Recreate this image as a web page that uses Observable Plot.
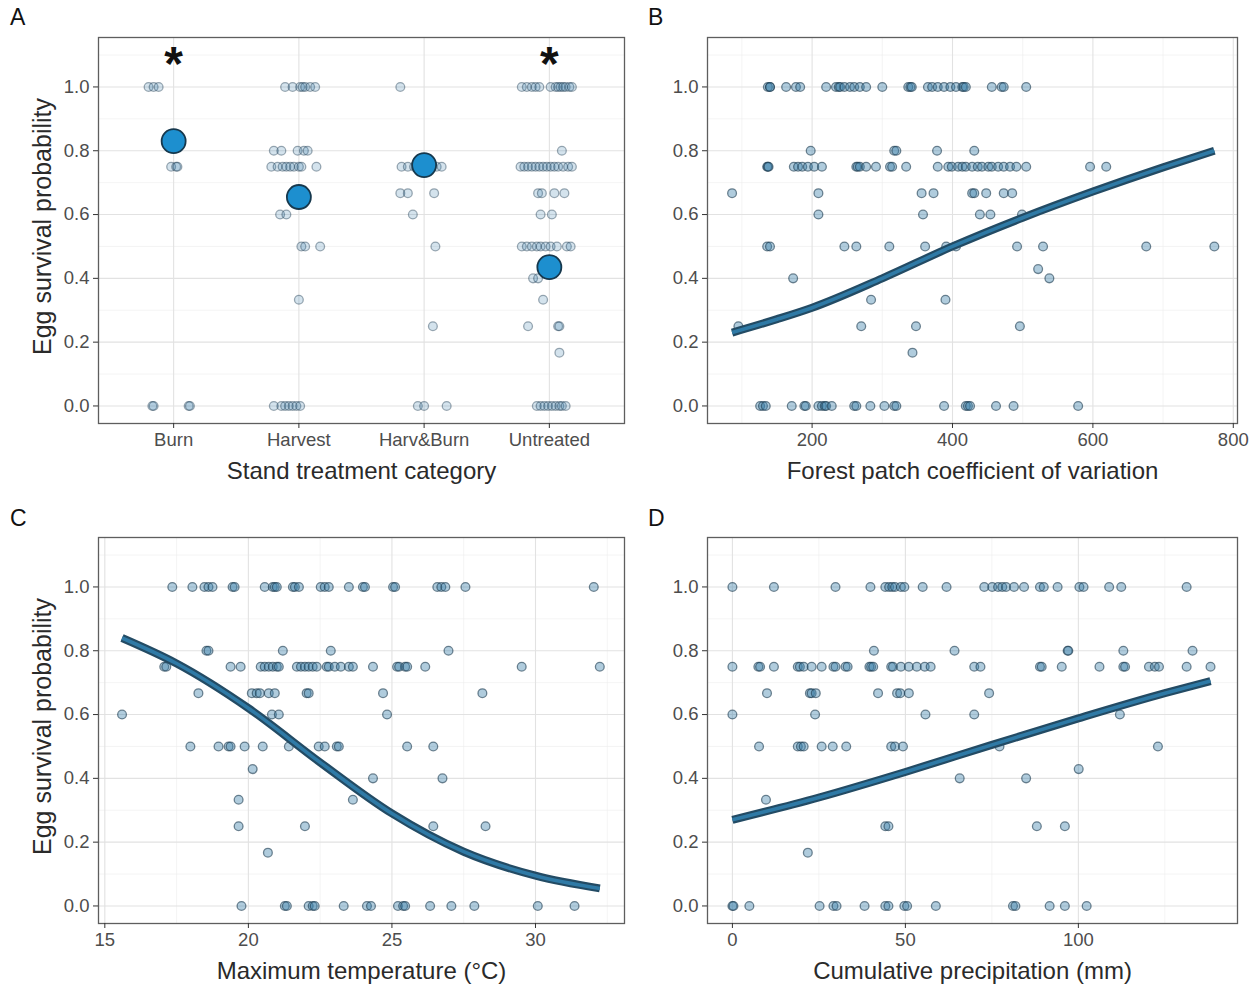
<!DOCTYPE html>
<html>
<head>
<meta charset="utf-8">
<script src="https://cdn.jsdelivr.net/npm/d3@7"></script>
<script src="https://cdn.jsdelivr.net/npm/@observablehq/plot@0.6"></script>
<style>
  html, body { margin: 0; padding: 0; background: #fff; }
  #root { position: relative; width: 1252px; height: 987px; font-family: "Liberation Sans", Arial, Helvetica, sans-serif; }
  .panel { position: absolute; }
  .tag { position: absolute; font-size: 23px; color: #111; font-family: "Liberation Sans", Arial, sans-serif; }
</style>
</head>
<body>
<div id="root"></div>
<script>
// ---------------- DATA ----------------
// Panel A: stand treatment categories
const categories = ["Burn", "Harvest", "Harv&Burn", "Untreated"];
// per category: [survival, [horizontal jitter offsets]]
const burnPts = [
  [1.0, [-0.2, -0.16, -0.12]],
  [0.75, [-0.02, 0.02, 0.03]],
  [0.0, [-0.17, -0.16, 0.12, 0.13]]
];
const harvestPts = [
  [1.0, [-0.11, -0.05, 0.01, 0.03, 0.05, 0.09, 0.13]],
  [0.8, [-0.2, -0.14, -0.01, 0.04, 0.07]],
  [0.75, [-0.22, -0.17, -0.13, -0.1, -0.07, -0.04, 0.0, 0.02, 0.14]],
  [0.6, [-0.15, -0.1]],
  [0.5, [0.02, 0.05, 0.17]],
  [0.333, [0.0]],
  [0.0, [-0.2, -0.14, -0.11, -0.08, -0.05, -0.02, 0.01]]
];
const harvBurnPts = [
  [1.0, [-0.19]],
  [0.75, [-0.18, -0.13, -0.08, -0.02, 0.04, 0.1, 0.14]],
  [0.667, [-0.19, -0.13, 0.08]],
  [0.6, [-0.09]],
  [0.5, [0.09]],
  [0.25, [0.07]],
  [0.0, [-0.05, 0.0, 0.18]]
];
const untreatedPts = [
  [1.0, [-0.22, -0.18, -0.14, -0.11, -0.08, 0.01, 0.05, 0.07, 0.09, 0.11, 0.13, 0.16, 0.18]],
  [0.8, [0.1]],
  [0.75, [-0.23, -0.2, -0.17, -0.14, -0.11, -0.08, -0.05, -0.02, 0.01, 0.04, 0.07, 0.11, 0.15, 0.18]],
  [0.667, [-0.09, -0.06, 0.04, 0.12]],
  [0.6, [-0.07, 0.02]],
  [0.5, [-0.22, -0.18, -0.14, -0.1, -0.07, -0.03, 0.01, 0.06, 0.14, 0.17]],
  [0.4, [-0.13, -0.09]],
  [0.333, [-0.05]],
  [0.25, [-0.17, 0.07, 0.08]],
  [0.167, [0.08]],
  [0.0, [-0.1, -0.07, -0.04, -0.01, 0.02, 0.05, 0.08, 0.1, 0.13]]
];
const categoryMeans = [0.83, 0.655, 0.755, 0.435];
const starredCategories = ["Burn", "Untreated"];

// Panel B: forest patch coefficient of variation, by survival level
const forestCV = [
  [1.0, [137, 140, 140, 163, 177, 183, 220, 234, 238, 240, 246, 254, 260, 268, 277, 300, 337, 340, 342, 365, 371, 379, 388, 397, 405, 414, 416, 419, 456, 470, 473, 505]],
  [0.8, [198, 317, 320, 378, 431]],
  [0.75, [136, 137, 138, 174, 180, 186, 194, 203, 214, 263, 265, 268, 277, 291, 311, 314, 334, 379, 394, 399, 408, 414, 419, 428, 436, 442, 451, 456, 465, 473, 482, 491, 505, 596, 619]],
  [0.667, [86, 209, 356, 373, 428, 431, 448, 473, 485]],
  [0.6, [209, 358, 439, 454, 499]],
  [0.5, [136, 140, 246, 263, 310, 361, 391, 405, 492, 529, 676, 773]],
  [0.429, [522]],
  [0.4, [173, 538]],
  [0.333, [284, 390]],
  [0.25, [95, 270, 348, 496]],
  [0.167, [343]],
  [0.0, [126, 130, 134, 171, 189, 191, 209, 214, 218, 220, 228, 260, 263, 283, 303, 317, 320, 388, 419, 422, 425, 462, 487, 579]]
];
const forestCVFit = [[86, 0.23], [150, 0.272], [200, 0.308], [300, 0.40], [400, 0.50], [500, 0.59], [600, 0.672], [700, 0.748], [773, 0.80]];

// Panel C: maximum temperature (°C)
const maxTemp = [
  [1.0, [17.35, 18.05, 18.47, 18.61, 18.75, 19.45, 19.52, 20.57, 20.85, 20.92, 20.99, 21.55, 21.62, 21.76, 22.52, 22.66, 22.8, 23.5, 23.99, 24.06, 25.04, 25.11, 26.58, 26.72, 26.86, 27.56, 32.03]],
  [0.8, [18.54, 18.61, 21.2, 22.87, 26.97]],
  [0.75, [17.07, 17.14, 19.38, 19.73, 20.43, 20.57, 20.71, 20.85, 20.99, 21.06, 21.69, 21.83, 21.97, 22.1, 22.24, 22.38, 22.73, 22.8, 23.01, 23.22, 23.5, 23.64, 24.34, 25.18, 25.25, 25.46, 25.53, 26.16, 29.52, 32.24]],
  [0.667, [18.26, 20.12, 20.29, 20.4, 20.71, 20.92, 22.03, 22.1, 24.69, 28.15]],
  [0.6, [15.6, 20.82, 21.06, 24.83]],
  [0.5, [17.98, 18.96, 19.31, 19.38, 19.87, 20.5, 21.41, 22.45, 22.66, 23.08, 23.15, 25.53, 26.44]],
  [0.429, [20.15]],
  [0.4, [24.34, 26.76]],
  [0.333, [19.66, 23.64]],
  [0.25, [19.66, 21.97, 26.44, 28.26]],
  [0.167, [20.68]],
  [0.0, [19.76, 21.27, 21.34, 22.1, 22.24, 22.31, 23.32, 24.13, 24.27, 25.21, 25.39, 25.46, 26.33, 27.07, 27.87, 30.08, 31.36]]
];
const maxTempFit = [[15.6, 0.84], [17.5, 0.76], [20, 0.62], [22.5, 0.45], [25, 0.29], [27.5, 0.17], [30, 0.095], [32.24, 0.055]];

// Panel D: cumulative precipitation (mm)
const precip = [
  [1.0, [0, 12, 29.8, 39.9, 44.2, 45.3, 46.2, 47, 48.7, 49.7, 55, 61.9, 72.8, 75.1, 76.8, 78, 79.1, 81.4, 84.3, 88.9, 90, 94, 100.3, 101.5, 108.9, 112.4, 131.3]],
  [0.8, [40.9, 64.2, 96.9, 97.1, 113, 133]],
  [0.75, [0, 7.5, 8, 12, 18.9, 19.5, 20.6, 22.9, 25.8, 29.2, 29.8, 32.7, 33.3, 39.6, 40.1, 40.7, 45.9, 46.4, 48.7, 51, 53.3, 55.6, 57.3, 69.9, 71.7, 88.9, 89.4, 95.2, 106.1, 113, 113.5, 120.4, 122.1, 123.3, 131.3, 138.2]],
  [0.667, [10, 22.4, 22.9, 24.1, 42.1, 47.6, 48.5, 51, 74.2]],
  [0.6, [0, 23.9, 55.8, 69.9, 112]],
  [0.5, [7.7, 18.9, 19.8, 20.6, 25.8, 29, 32.9, 45.9, 47, 49.3, 77.2, 123]],
  [0.429, [100.1]],
  [0.4, [65.7, 84.9]],
  [0.333, [9.7]],
  [0.25, [44.2, 45.1, 88, 96.1]],
  [0.167, [21.8]],
  [0.0, [0, 0.3, 4.9, 25.2, 29.2, 30.1, 38.2, 44.2, 45.1, 49.7, 50.5, 58.8, 81.1, 81.8, 91.7, 96.1, 102.4]]
];
const precipFit = [[0, 0.27], [25, 0.34], [50, 0.42], [75, 0.505], [100, 0.588], [125, 0.667], [138.2, 0.705]];

const yTicks = [0, 0.2, 0.4, 0.6, 0.8, 1.0];
const yMinor = [0.1, 0.3, 0.5, 0.7, 0.9, 1.1];
const yTitle = "Egg survival probability";

// ---------------- HELPERS ----------------
const FONT = '"Liberation Sans", Arial, Helvetica, sans-serif';
const flatten = (levels) => levels.flatMap(([y, xs]) => xs.map(x => ({x, y})));
const aPoints = [burnPts, harvestPts, harvBurnPts, untreatedPts]
  .flatMap((lv, i) => lv.flatMap(([y, js]) => js.map(j => ({x: i + j, y}))));
const aMeans = categoryMeans.map((m, i) => ({x: i, y: m}));
const aStars = starredCategories.map(c => ({x: categories.indexOf(c), y: 1.1}));

function panel({h, marginLeft, marginRight, xDomain, xTicks, xMinor, xFormat, xTitle, showYTitle, marks}) {
  const W = 626;
  return Plot.plot({
    width: W, height: h,
    marginLeft, marginRight, marginTop: 37, marginBottom: h - 423,
    style: {fontFamily: FONT, background: "transparent", overflow: "visible"},
    x: {domain: xDomain},
    y: {domain: [-0.055, 1.155]},
    marks: [
      Plot.gridY(yMinor, {stroke: "#ececec", strokeOpacity: 1, strokeWidth: 0.6}),
      xMinor ? Plot.gridX(xMinor, {stroke: "#ececec", strokeOpacity: 1, strokeWidth: 0.6}) : null,
      Plot.gridY(yTicks, {stroke: "#e2e2e2", strokeOpacity: 1, strokeWidth: 1.1}),
      Plot.gridX(xTicks, {stroke: "#e2e2e2", strokeOpacity: 1, strokeWidth: 1.1}),
      ...marks,
      Plot.frame({stroke: "#5e5e5e", strokeWidth: 1.3}),
      Plot.axisY({ticks: yTicks, tickFormat: d3.format(".1f"), tickSize: 5, tickPadding: 4, label: null,
        fontSize: 18.5, fill: "#4d4d4d", stroke: "#333"}),
      Plot.axisX({ticks: xTicks, tickFormat: xFormat, tickSize: 5, tickPadding: 4, label: null,
        fontSize: 18.5, fill: "#4d4d4d", stroke: "#333"}),
      Plot.text([xTitle], {frameAnchor: "bottom", dy: 55, lineAnchor: "bottom", fontSize: 24, fill: "#2a2a2a"}),
      showYTitle ? Plot.text([yTitle], {frameAnchor: "left", dx: -56, dy: -4, rotate: -90, textAnchor: "middle", lineAnchor: "middle", fontSize: 25, fill: "#2a2a2a"}) : null
    ]
  });
}

const dotStyle = (op) => ({r: 4.4, fill: "#3a7fab", fillOpacity: op, stroke: "#1c3a4e", strokeOpacity: op + 0.2, strokeWidth: 1.3});
const fitMarks = (data) => [
  Plot.line(data, {x: d => d[0], y: d => d[1], stroke: "#234b64", strokeWidth: 8, curve: "monotone-x", strokeLinecap: "butt"}),
  Plot.line(data, {x: d => d[0], y: d => d[1], stroke: "#2f7aa6", strokeWidth: 3.6, curve: "monotone-x", strokeLinecap: "butt"})
];

const root = document.getElementById("root");
function place(node, left, top) {
  const d = document.createElement("div");
  d.className = "panel";
  d.style.left = left + "px"; d.style.top = top + "px";
  d.appendChild(node);
  root.appendChild(d);
}
function tag(t, left, top) {
  const d = document.createElement("div");
  d.className = "tag"; d.textContent = t;
  d.style.left = left + "px"; d.style.top = top + "px";
  root.appendChild(d);
}

// Panel A
place(panel({
  h: 490, marginLeft: 98, marginRight: 2,
  xDomain: [-0.6, 3.6], xTicks: [0, 1, 2, 3], xMinor: null, xFormat: i => categories[i],
  xTitle: "Stand treatment category", showYTitle: true,
  marks: [
    Plot.dot(aPoints, {x: "x", y: "y", ...dotStyle(0.22)}),
    Plot.dot(aMeans, {x: "x", y: "y", r: 12, fill: "#1d8fcf", stroke: "#16384d", strokeWidth: 1.8}),
    Plot.text(aStars, {x: "x", y: "y", text: () => "*", fontSize: 48, fontWeight: "bold", dy: 10, fill: "#111", lineAnchor: "middle"})
  ]
}), 0, 0);

// Panel B
place(panel({
  h: 490, marginLeft: 81, marginRight: 15,
  xDomain: [51, 806], xTicks: [200, 400, 600, 800], xMinor: [100, 300, 500, 700], xFormat: d3.format("d"),
  xTitle: "Forest patch coefficient of variation", showYTitle: false,
  marks: [
    Plot.dot(flatten(forestCV), {x: "x", y: "y", ...dotStyle(0.4)}),
    ...fitMarks(forestCVFit)
  ]
}), 626, 0);

// Panel C
place(panel({
  h: 487, marginLeft: 98, marginRight: 2,
  xDomain: [14.78, 33.1], xTicks: [15, 20, 25, 30], xMinor: [17.5, 22.5, 27.5, 32.5], xFormat: d3.format("d"),
  xTitle: "Maximum temperature (°C)", showYTitle: true,
  marks: [
    Plot.dot(flatten(maxTemp), {x: "x", y: "y", ...dotStyle(0.4)}),
    ...fitMarks(maxTempFit)
  ]
}), 0, 500);

// Panel D
place(panel({
  h: 487, marginLeft: 81, marginRight: 15,
  xDomain: [-7.2, 146], xTicks: [0, 50, 100], xMinor: [25, 75, 125], xFormat: d3.format("d"),
  xTitle: "Cumulative precipitation (mm)", showYTitle: false,
  marks: [
    Plot.dot(flatten(precip), {x: "x", y: "y", ...dotStyle(0.4)}),
    ...fitMarks(precipFit)
  ]
}), 626, 500);

tag("A", 10, 4);
tag("B", 648, 4);
tag("C", 10, 505);
tag("D", 648, 505);
</script>
</body>
</html>
